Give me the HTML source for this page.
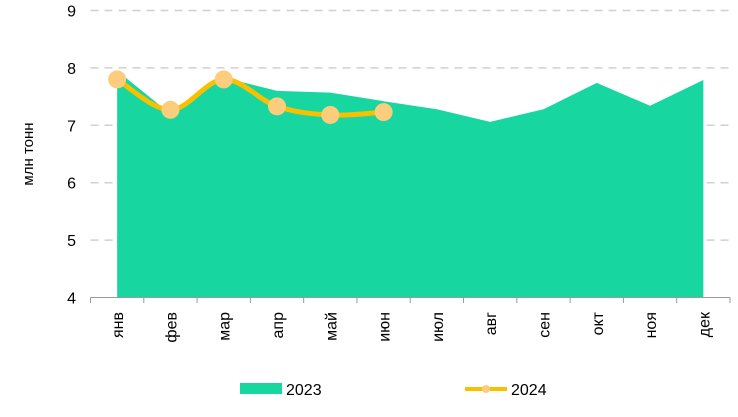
<!DOCTYPE html>
<html><head><meta charset="utf-8"><style>
body{margin:0;background:#fff;font-family:"Liberation Sans",sans-serif}
</style></head><body>
<svg id="c" width="738" height="412" xmlns="http://www.w3.org/2000/svg"></svg>
<script>
const categories=["янв","фев","мар","апр","май","июн","июл","авг","сен","окт","ноя","дек"];
const values2023=[7.95,7.2,7.83,7.6,7.57,7.42,7.28,7.06,7.28,7.74,7.34,7.79];
const values2024=[7.8,7.27,7.8,7.33,7.18,7.23];
const yTicks=[4,5,6,7,8,9];
const NS="http://www.w3.org/2000/svg";
const svg=document.getElementById('c');
const x0=90.5,x1=730,bw=(x1-x0)/12;
function x(i){return x0+bw*(i+0.5);}
function y(v){return 297.5-(v-4)*57.4;}
function mk(t,a,p){const e=document.createElementNS(NS,t);for(const k in a)e.setAttribute(k,a[k]);(p||svg).appendChild(e);return e;}
yTicks.forEach(v=>{
 if(v>4){const g=mk('line',{x1:x0,x2:x1,y1:y(v),y2:y(v),stroke:'#d0d0d0','stroke-width':1.5,'stroke-dasharray':'8,6'});
 
 }
 const t=mk('text',{x:76,y:y(v)+6,'text-anchor':'end','font-size':16,fill:'#000'});t.textContent=v;
 
 
});
// area
let d='M'+x(0)+','+y(4);
values2023.forEach((v,i)=>d+=' L'+x(i)+','+y(v));
d+=' L'+x(11)+','+y(4)+' Z';
const area=mk('path',{d:d,fill:'#17d6a0'});


// axis
const ax=mk('line',{x1:x0,x2:x1,y1:297.5,y2:297.5,stroke:'#999','stroke-width':1});


for(let i=0;i<=12;i++){const tk=mk('line',{x1:x0+bw*i,x2:x0+bw*i,y1:297.5,y2:303,stroke:'#999'});
 
 }
categories.forEach((c,i)=>{
 const t=mk('text',{x:0,y:0,transform:'translate('+(x(i)+6)+',312) rotate(-90)','text-anchor':'end','font-size':16,fill:'#000'});t.textContent=c;
 
 
});
// smooth line 2024
const pts=values2024.map((v,i)=>[x(i),y(v)]);
let ld='M'+pts[0][0]+','+pts[0][1];
for(let i=0;i<pts.length-1;i++){
 const p0=pts[Math.max(0,i-1)],p1=pts[i],p2=pts[i+1],p3=pts[Math.min(pts.length-1,i+2)];
 const k=0.17;
 ld+=' C'+(p1[0]+(p2[0]-p0[0])*k)+','+(p1[1]+(p2[1]-p0[1])*k)+' '+(p2[0]-(p3[0]-p1[0])*k)+','+(p2[1]-(p3[1]-p1[1])*k)+' '+p2[0]+','+p2[1];
}
const ln=mk('path',{d:ld,fill:'none',stroke:'#f9c000','stroke-width':5,'stroke-linecap':'round'});


pts.forEach((p,i)=>{const c=mk('circle',{cx:p[0],cy:p[1],r:9,fill:'#fdcd7e'});
 
 });
// y title
const yt=mk('text',{x:0,y:0,transform:'translate(33,154) rotate(-90)','text-anchor':'middle','font-size':15,fill:'#000'});yt.textContent='млн тонн';


// legend
const l1=mk('rect',{x:240,y:383,width:42,height:11,fill:'#17d6a0'});


const lt1=mk('text',{x:286,y:395,'font-size':16,fill:'#000'});lt1.textContent='2023';


const l2=mk('line',{x1:465,x2:507,y1:389,y2:389,stroke:'#f9c000','stroke-width':4});


const l2c=mk('circle',{cx:486,cy:389,r:4,fill:'#fdcd7e'});


const lt2=mk('text',{x:511,y:395,'font-size':16,fill:'#000'});lt2.textContent='2024';


</script>
</body></html>
